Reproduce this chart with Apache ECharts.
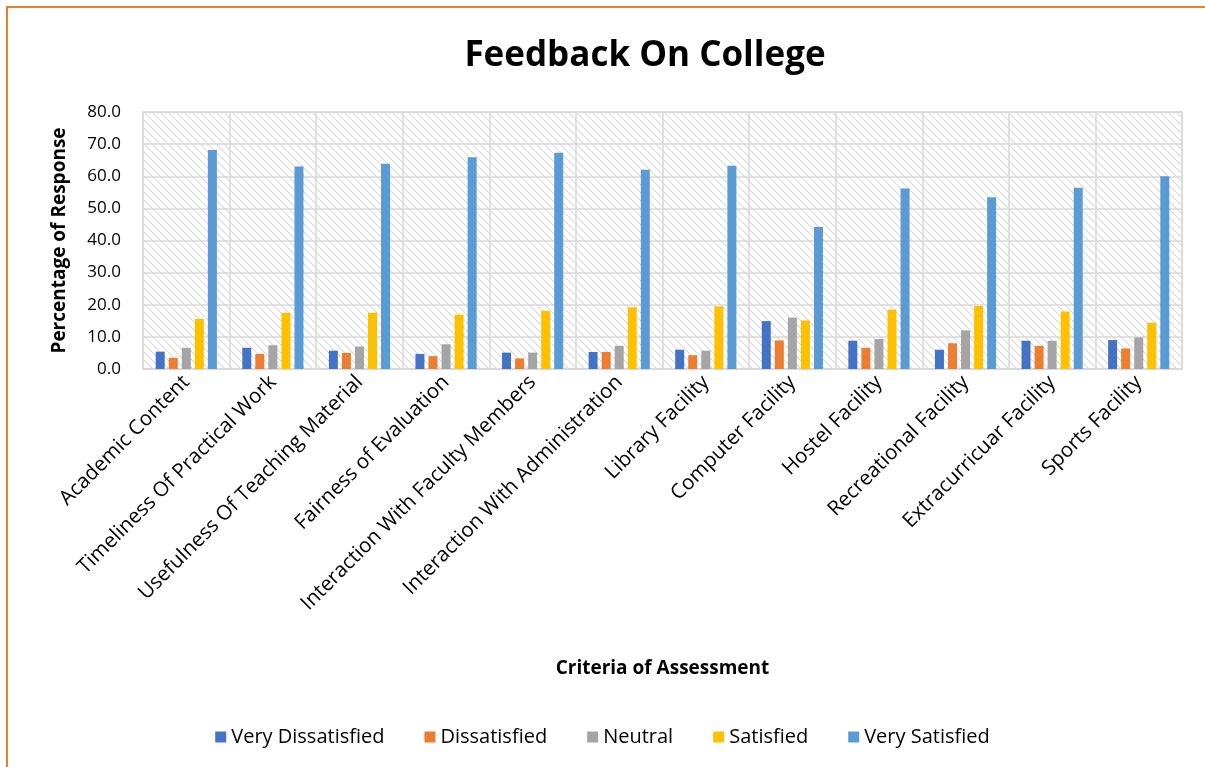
<!DOCTYPE html>
<html>
<head>
<meta charset="utf-8">
<script src="https://cdn.jsdelivr.net/npm/echarts@6/dist/echarts.min.js"></script>
<style>
html,body{margin:0;padding:0;background:#fff;}
#chart{width:1205px;height:767px;}
</style>
</head>
<body>
<div id="chart"></div>
<script>
const categories = ["Academic Content","Timeliness Of Practical Work","Usefulness Of Teaching Material","Fairness of Evaluation","Interaction With Faculty Members","Interaction With Administration","Library Facility","Computer Facility","Hostel Facility","Recreational Facility","Extracurricuar Facility","Sports Facility"];
const veryDissatisfied = [5.4, 6.6, 5.7, 4.7, 5.1, 5.3, 6.0, 14.9, 8.8, 6.0, 8.8, 9.0];
const dissatisfied     = [3.5, 4.7, 5.0, 4.0, 3.3, 5.3, 4.3, 8.9, 6.6, 8.0, 7.2, 6.4];
const neutral          = [6.6, 7.4, 7.0, 7.7, 5.1, 7.2, 5.7, 16.0, 9.3, 12.0, 8.8, 9.8];
const satisfied        = [15.6, 17.5, 17.5, 16.9, 18.1, 19.2, 19.5, 15.1, 18.5, 19.6, 17.9, 14.4];
const verySatisfied    = [68.2, 63.0, 63.9, 65.9, 67.3, 62.0, 63.3, 44.2, 56.2, 53.5, 56.4, 60.0];
const seriesNames = ["Very Dissatisfied","Dissatisfied","Neutral","Satisfied","Very Satisfied"];
const seriesColors = ["#4472C4","#ED7D31","#A5A5A5","#FFC000","#5B9BD5"];
const seriesData = [veryDissatisfied, dissatisfied, neutral, satisfied, verySatisfied];

// hatch pattern
const pc = document.createElement('canvas');
pc.width = 8; pc.height = 8;
const ctx = pc.getContext('2d');
ctx.fillStyle = '#ffffff';
ctx.fillRect(0,0,8,8);
ctx.strokeStyle = '#dcdcdc';
ctx.lineWidth = 1.2;
ctx.beginPath();
ctx.moveTo(-2,-2); ctx.lineTo(10,10);
ctx.moveTo(-6,2); ctx.lineTo(2,10);
ctx.moveTo(6,-2); ctx.lineTo(14,6);
ctx.stroke();

const FONT = "Open Sans";
const chart = echarts.init(document.getElementById('chart'));
chart.setOption({
  animation: false,
  backgroundColor: '#ffffff',
  textStyle: { fontFamily: FONT },
  title: {
    text: 'Feedback On College',
    left: 640, top: 34, textAlign: 'center',
    textStyle: { fontFamily: FONT, fontWeight: 'bold', fontSize: 35, color: '#000' }
  },
  legend: {
    data: seriesNames,
    left: 'center', top: 722,
    itemWidth: 11, itemHeight: 11, itemGap: 40,
    icon: 'rect',
    textStyle: { fontFamily: FONT, fontSize: 20, color: '#000' }
  },
  grid: {
    left: 143, right: 23, top: 112, bottom: 398,
    show: true,
    backgroundColor: { image: pc, repeat: 'repeat' },
    borderColor: '#d9d9d9', borderWidth: 1.5
  },
  xAxis: {
    type: 'category',
    data: categories,
    name: 'Criteria of Assessment',
    nameLocation: 'middle',
    nameGap: 290,
    nameTextStyle: { fontFamily: FONT, fontWeight: 'bold', fontSize: 19, color: '#000' },
    axisLine: { show: true, lineStyle: { color: '#d9d9d9', width: 1.5 } },
    axisTick: { show: false },
    splitLine: { show: true, lineStyle: { color: '#d9d9d9', width: 1.5 } },
    axisLabel: { rotate: 45, interval: 0, fontFamily: FONT, fontSize: 20.5, color: '#000', margin: 10 }
  },
  yAxis: {
    type: 'value',
    min: 0, max: 80, interval: 10,
    name: 'Percentage of Response',
    nameLocation: 'middle',
    nameGap: 74,
    nameTextStyle: { fontFamily: FONT, fontWeight: 'bold', fontSize: 19, color: '#000' },
    axisLine: { show: false },
    axisTick: { show: false },
    splitLine: { show: true, lineStyle: { color: '#d9d9d9', width: 1.5 } },
    axisLabel: { fontFamily: FONT, fontSize: 17, color: '#000', margin: 22, formatter: v => v.toFixed(1) }
  },
  series: seriesNames.map((n, i) => ({
    name: n,
    type: 'bar',
    data: seriesData[i],
    barWidth: 9,
    barGap: '45%',
    itemStyle: { color: seriesColors[i] }
  })),
  graphic: [
    { type: 'line', shape: { x1: 6, y1: 7, x2: 1205, y2: 7 }, style: { stroke: '#ED7D31', lineWidth: 2 }, z: 100 },
    { type: 'line', shape: { x1: 7, y1: 6, x2: 7, y2: 767 }, style: { stroke: '#ED7D31', lineWidth: 2 }, z: 100 }
  ]
});
</script>
</body>
</html>
